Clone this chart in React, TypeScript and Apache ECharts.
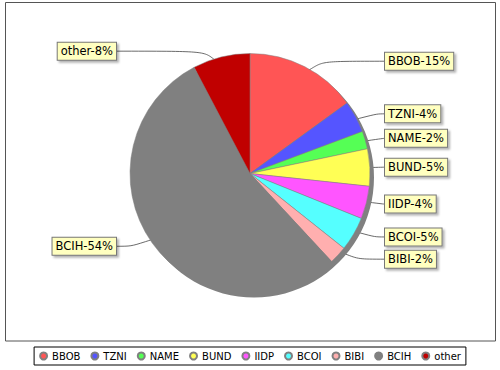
import React, { useEffect, useRef } from 'react';
import * as echarts from 'echarts';

const categories = ['BBOB', 'TZNI', 'NAME', 'BUND', 'IIDP', 'BCOI', 'BIBI', 'BCIH', 'other'];
const shares = [15.0, 4.3, 2.4, 5.0, 4.4, 4.6, 2.4, 54.2, 7.7];
const sliceColors = ['#FF5555', '#5555FF', '#55FF55', '#FFFF55', '#FF55FF', '#55FFFF', '#FFAFAF', '#808080', '#C00000'];

const CX = 250;
const CY = 173.5;
const R = 120;
const LINK_R = 108;
const LINK_LEN = 18;
const RIGHT_END = 385;
const LEFT_END = 116;
const FONT = 'DejaVu Sans';

export default function App() {
  const ref = useRef<HTMLDivElement>(null);

  useEffect(() => {
    const chart = echarts.init(ref.current!, null, { renderer: 'svg' });
    const total = shares.reduce((a, b) => a + b, 0);
    let acc = 0;
    const length2s = shares.map((v) => {
      const mid = ((acc + v / 2) / total) * Math.PI * 2;
      acc += v;
      const s = Math.sin(mid);
      const x2 = CX + (LINK_R + LINK_LEN) * s;
      return s >= 0 ? Math.max(2, RIGHT_END - x2) : Math.max(2, x2 - LEFT_END);
    });

    chart.setOption({
      animation: false,
      backgroundColor: '#ffffff',
      graphic: [
        {
          type: 'rect',
          shape: { x: 5.5, y: 2.5, width: 490, height: 338.5 },
          style: { fill: 'none', stroke: '#555555', lineWidth: 1 },
          silent: true,
        },
      ],
      legend: {
        data: categories,
        top: 347,
        left: 'center',
        orient: 'horizontal',
        icon: 'circle',
        itemWidth: 7,
        itemHeight: 7,
        itemGap: 10,
        selectedMode: false,
        padding: [4, 5, 4, 5],
        borderColor: '#000000',
        borderWidth: 1,
        textStyle: { fontFamily: FONT, fontSize: 10, color: '#000000' },
      },
      series: [
        {
          type: 'pie',
          name: 'shadow',
          center: [CX + 4, CY + 4],
          radius: R,
          silent: true,
          label: { show: false },
          labelLine: { show: false },
          emphasis: { disabled: true },
          data: [{ name: '__shadow', value: 1, itemStyle: { color: '#808080' } }],
        },
        {
          type: 'pie',
          name: 'main',
          center: [CX, CY],
          radius: R,
          startAngle: 90,
          clockwise: true,
          silent: true,
          emphasis: { disabled: true },
          label: { show: false },
          labelLine: { show: false },
          itemStyle: { borderColor: '#808080', borderWidth: 0.5 },
          data: categories.map((n, i) => ({ name: n, value: shares[i], itemStyle: { color: sliceColors[i] } })),
        },
        {
          type: 'pie',
          name: 'labels',
          center: [CX, CY],
          radius: LINK_R,
          startAngle: 90,
          clockwise: true,
          silent: true,
          emphasis: { disabled: true },
          itemStyle: { color: 'rgba(0,0,0,0)', borderWidth: 0 },
          label: {
            show: true,
            position: 'outside',
            alignTo: 'none',
            formatter: (p: any) => `${p.name}-${Math.round(p.percent)}%`,
            fontFamily: FONT,
            fontSize: 11.5,
            color: '#000000',
            backgroundColor: '#FFFFC0',
            borderColor: '#777777',
            borderWidth: 1,
            padding: [3, 3, 2, 3],
            shadowColor: 'rgba(0,0,0,0.3)',
            shadowOffsetX: 2,
            shadowOffsetY: 2,
            shadowBlur: 2,
            distanceToLabelLine: 0,
          },
          labelLine: {
            show: true,
            length: LINK_LEN,
            smooth: 0.9,
            lineStyle: { color: '#444444', width: 0.8 },
          },
          data: categories.map((n, i) => ({
            name: n,
            value: shares[i],
            labelLine: { length2: length2s[i] },
          })),
        },
      ],
    });

    return () => chart.dispose();
  }, []);

  return (
    <div
      ref={ref}
      style={{ position: 'fixed', left: 0, top: 0, width: 500, height: 370, background: '#fff' }}
    />
  );
}
